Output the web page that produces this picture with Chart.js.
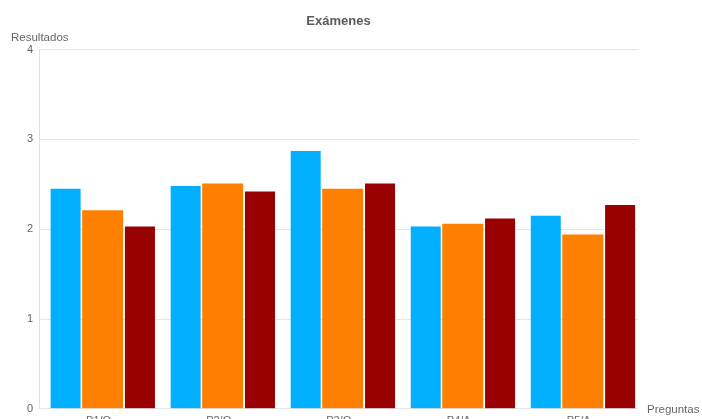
<!DOCTYPE html>
<html>
<head>
<meta charset="utf-8">
<script src="https://cdn.jsdelivr.net/npm/chart.js@4"></script>
<style>
	html, body { margin: 0; padding: 0; background: #fff; overflow: hidden; }
	.grafik-container { position: relative; width: 702px; height: 434px; }
</style>
</head>
<body>
<div class="grafik-container"><canvas id="examenesGrafik"></canvas></div>
<script>
// Datos de las preguntas
const preguntas = ['P1/O', 'P2/O', 'P3/O', 'P4/A', 'P5/A']
const serie1 = [2.45, 2.48, 2.87, 2.03, 2.15]
const serie2 = [2.21, 2.51, 2.45, 2.06, 1.94]
const serie3 = [2.03, 2.42, 2.51, 2.12, 2.27]
const yMin = 0
const yMax = 4

// las barras van sobre un eje lineal: pregunta i -> x = i + 1
const puntos = valores => valores.map((v, i) => ({ x: i + 1, y: v }))

Chart.defaults.font.family = '"Liberation Sans", Arial, sans-serif'

// Títulos de los ejes, en horizontal como en la hoja original
const ejeTitulos = {
	id: 'ejeTitulos',
	afterDraw(chart) {
		const { ctx, chartArea } = chart
		ctx.save()
		ctx.font = '11.5px "Liberation Sans", Arial, sans-serif'
		ctx.fillStyle = '#666'
		ctx.textBaseline = 'middle'
		ctx.textAlign = 'left'
		ctx.fillText('Resultados', 11, chartArea.top - 12)
		ctx.fillText('Preguntas', chartArea.right + 9, chartArea.bottom + 1)
		ctx.restore()
	},
}

const examenesCtx = document.getElementById('examenesGrafik').getContext('2d')
let examenesChart = new Chart(examenesCtx, {
	type: 'bar',
	data: {
		datasets: [
			{
				label: 'Serie 1',
				data: puntos(serie1),
				backgroundColor: '#00b0ff',
				categoryPercentage: 0.925,
				barPercentage: 0.81,
			},
			{
				label: 'Serie 2',
				data: puntos(serie2),
				backgroundColor: '#ff8000',
				categoryPercentage: 1,
				barPercentage: 1.025,
			},
			{
				label: 'Serie 3',
				data: puntos(serie3),
				backgroundColor: '#990000',
				categoryPercentage: 0.933,
				barPercentage: 0.804,
			},
		],
	},
	options: {
		responsive: true,
		maintainAspectRatio: false,
		animation: false,
		layout: {
			padding: { left: 0, right: 64, top: 0, bottom: 0 },
		},
		plugins: {
			legend: { display: false },
			tooltip: { enabled: false },
			title: {
				display: true,
				text: 'Exámenes',
				fullSize: false,
				color: '#5a5a5a',
				font: { size: 13, weight: 'bold' },
				padding: { top: 14, bottom: 20 },
			},
		},
		scales: {
			x: {
				type: 'linear',
				offset: false,
				min: 0.47,
				max: 5.46,
				grid: { display: false, drawTicks: false },
				border: { display: false },
				afterBuildTicks: scale => {
					scale.ticks = preguntas.map((_, i) => ({ value: i + 1 }))
				},
				ticks: {
					autoSkip: false,
					maxRotation: 0,
					padding: 6,
					labelOffset: -4,
					color: '#666',
					font: { size: 11 },
					callback: v => preguntas[v - 1],
				},
			},
			y: {
				min: yMin,
				max: yMax,
				afterFit: scale => {
					scale.width = 39
				},
				grid: { color: '#e6e6e6', drawTicks: false },
				border: { color: '#e0e0e0' },
				ticks: {
					stepSize: 1,
					padding: 6,
					color: '#666',
					font: { size: 11 },
				},
			},
		},
	},
	plugins: [ejeTitulos],
})
</script>
</body>
</html>
